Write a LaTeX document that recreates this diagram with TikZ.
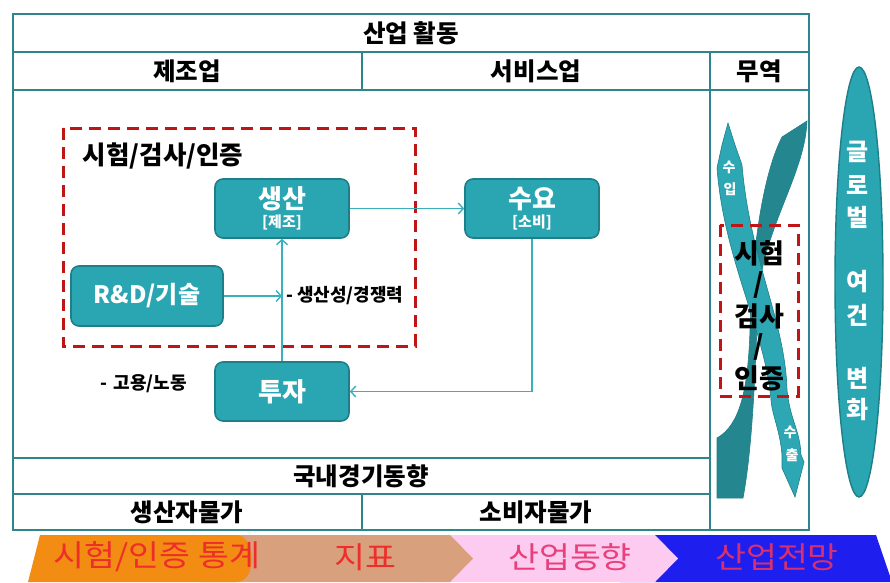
\documentclass[tikz,border=0pt]{standalone}
\usepackage{fontspec}
\setmainfont{Noto Sans CJK KR}
\usetikzlibrary{arrows.meta}
\definecolor{frame}{HTML}{2E858C}
\definecolor{boxfill}{HTML}{2AA5B2}
\definecolor{boxline}{HTML}{1F7F88}
\definecolor{arr}{HTML}{3AB0BD}
\definecolor{dred}{HTML}{C01515}
\definecolor{darkband}{HTML}{24878F}
\definecolor{ltband}{HTML}{2EA7B4}
\definecolor{bnOrange}{HTML}{F28C12}
\definecolor{bnTan}{HTML}{D8A07C}
\definecolor{bnPink}{HTML}{FDCBEF}
\definecolor{bnBlue}{HTML}{1E1EEE}
\definecolor{txRed}{HTML}{EE2E2A}
\definecolor{txPink}{HTML}{E8407A}
\definecolor{txMag}{HTML}{D8306E}
\begin{document}
\begin{tikzpicture}[x=1pt,y=-1pt,
  cell/.style={font=\fontsize{24.5}{26}\selectfont\bfseries, inner sep=0pt},
  tbox/.style={draw=boxline, line width=1.6pt, fill=boxfill, rounded corners=8pt, text=white, align=center, inner sep=0pt, minimum width=134pt, minimum height=59pt, font=\fontsize{26}{27}\selectfont\bfseries},
  flow/.style={draw=arr, line width=1.6pt, -{Straight Barb[length=5pt,width=11pt,line width=1.4pt]}},
  reddash/.style={draw=dred, line width=3pt, dash pattern=on 12pt off 7pt},
  small/.style={font=\fontsize{18}{20}\selectfont\bfseries, inner sep=0pt},
  vtext/.style={text=white, font=\fontsize{24}{26}\selectfont\bfseries, inner sep=0pt},
  ttext/.style={font=\fontsize{27}{29}\selectfont\bfseries, inner sep=0pt},
  arrtext/.style={text=white, font=\fontsize{14}{15}\selectfont\bfseries, inner sep=0pt},
  bantext/.style={font=\fontsize{30}{32}\selectfont, inner sep=0pt},
  frameline/.style={draw=frame, line width=2.6pt}
]
\useasboundingbox (0,0) rectangle (890,582);
\fill[white] (0,0) rectangle (890,582);

% ---- table frame ----
\draw[frameline] (13,14) rectangle (809,530);
\draw[frameline] (13,52) -- (809,52);
\draw[frameline] (13,90) -- (809,90);
\draw[frameline] (362,52) -- (362,90);
\draw[frameline] (710,52) -- (710,530);
\draw[frameline] (13,458) -- (710,458);
\draw[frameline] (13,494) -- (710,494);
\draw[frameline] (362,494) -- (362,530);

\node[cell] (hA) at (411,33) {산업 활동};
\node[cell] (hB) at (187,71) {제조업};
\node[cell] (hC) at (536,71) {서비스업};
\node[cell] (hD) at (759,71) {무역};
\node[cell] (hE) at (361,476) {국내경기동향};
\node[cell] (hF) at (187,512) {생산자물가};
\node[cell] (hG) at (536,512) {소비자물가};

% ---- main flow ----
\draw[reddash] (63,128) rectangle (415,346);
\node[font=\fontsize{25.5}{27}\selectfont\bfseries, inner sep=0pt] (ttl) at (163,156) {시험/검사/인증};

\node[tbox] (prod) at (282,208.5) {생산\\[-8pt]{\fontsize{15}{16}\selectfont [제조]}};
\node[tbox] (dem) at (532,208.5) {수요\\[-8pt]{\fontsize{15}{16}\selectfont [소비]}};
\node[tbox, minimum width=152pt, minimum height=60pt, font=\fontsize{24}{26}\selectfont\bfseries] (rd) at (147,296) {R\&D/기술};
\node[tbox] (inv) at (282,391.5) {투자};
\coordinate (junc) at (282,296);

\draw[flow] (prod.east) -- (dem.west);
\draw[flow] (dem.south) |- (inv.east);
\draw[flow] (inv.north) -- (prod.south);
\draw[flow] (rd.east) -- (junc);

\node[small, anchor=west] (lab1) at (286,296) {- 생산성/경쟁력};
\node[small, anchor=east] (lab2) at (187,384) {-\hspace{6pt}고용/노동};

% ---- trade column ----
\filldraw[fill=darkband, draw=boxline, line width=0.6pt]
  (782,137) -- (807,121)
  .. controls (805,175) and (762,230) .. (758,300)
  .. controls (755,380) and (752,450) .. (743,498)
  -- (717,498) -- (717,438)
  .. controls (740,425) and (748,390) .. (750,330)
  .. controls (752,240) and (765,170) .. (782,137) -- cycle;
\filldraw[fill=ltband, draw=boxline, line width=0.6pt]
  (728,123) -- (735,145) -- (742,165)
  .. controls (750,260) and (785,320) .. (787,390)
  .. controls (790,420) and (800,430) .. (801,455)
  -- (804,462) -- (795,497) -- (782,468) -- (782,455)
  .. controls (780,430) and (772,415) .. (771,400)
  .. controls (765,330) and (724,260) .. (717,168)
  -- (722,145) -- cycle;
\node[arrtext] (imA) at (729,167) {수};
\node[arrtext] (imB) at (730,189) {입};
\node[arrtext] (exA) at (790,432) {수};
\node[arrtext] (exB) at (792,455) {출};

\draw[reddash] (720,225) rectangle (798,396);
\node[ttext] (tr1) at (759,253) {시험};
\node[ttext] (tr2) at (759,285) {/};
\node[ttext] (tr3) at (759,316) {검사};
\node[ttext] (tr4) at (759,347) {/};
\node[ttext] (tr5) at (759,378) {인증};

% ---- global ellipse ----
\filldraw[fill=boxfill, draw=boxline, line width=1.4pt] (859,282) ellipse [x radius=24, y radius=215];
\node[vtext] (g1) at (858,152) {글};
\node[vtext] (g2) at (858,185) {로};
\node[vtext] (g3) at (858,217) {벌};
\node[vtext] (g4) at (858,282) {여};
\node[vtext] (g5) at (858,315) {건};
\node[vtext] (g6) at (858,378) {변};
\node[vtext] (g7) at (858,410) {화};

% ---- bottom banner ----
\fill[bnBlue] (620,535) -- (876,535) -- (892,582) -- (620,582) -- cycle;
\fill[bnPink] (420,535) -- (655,535) -- (678,558.5) -- (655,582) -- (420,582) -- cycle;
\fill[bnTan] (200,535) -- (450,535) -- (473,558.5) -- (450,582) -- (200,582) -- cycle;
\fill[bnOrange] (40,535) -- (236,535) .. controls (256,535) and (258,582) .. (236,582) -- (28,582) -- cycle;
\node[bantext, text=txRed] (b1) at (157,557) {\scalebox{1.12}[1]{시험/인증 통계}};
\node[bantext, text=txRed] (b2) at (365,557) {\scalebox{1.12}[1]{지표}};
\node[bantext, text=txPink] (b3) at (570,557) {\scalebox{1.12}[1]{산업동향}};
\node[bantext, text=txMag] (b4) at (777,557) {\scalebox{1.12}[1]{산업전망}};
\end{tikzpicture}
\end{document}
